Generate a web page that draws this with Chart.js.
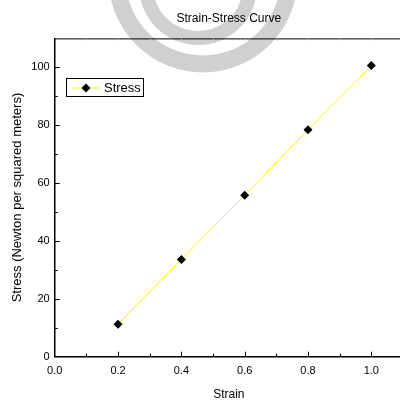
<!DOCTYPE html>
<html>
<head>
<meta charset="utf-8">
<script src="https://cdn.jsdelivr.net/npm/chart.js@4/dist/chart.umd.min.js"></script>
<style>
  html, body { margin: 0; padding: 0; background: #fff; overflow: hidden; }
  #wrap { width: 411px; height: 402px; }
</style>
</head>
<body>
<div id="wrap"><canvas id="chart" width="411" height="402"></canvas></div>
<script>
const strain = [0.2, 0.4, 0.6, 0.8, 1.0];
const stress = [11.2, 33.6, 55.8, 78.4, 100.6];
const seriesName = 'Stress';
const chartTitle = 'Strain-Stress Curve';
const xTitle = 'Strain';
const yTitle = 'Stress (Newton per squared meters)';

const FONT = '"Liberation Sans", Arial, sans-serif';

// faint grey rings behind the chart, like the watermark in the original
const watermark = {
    id: 'watermark',
    beforeDraw(chart) {
        const c = chart.ctx;
        c.save();
        c.strokeStyle = 'rgba(200,200,200,0.85)';
        c.lineWidth = 17;
        c.beginPath();
        c.arc(203, -22, 86, 0, Math.PI);
        c.stroke();
        c.lineWidth = 14;
        c.beginPath();
        c.arc(198, -14, 52, 0.2, Math.PI - 0.1);
        c.stroke();
        c.restore();
    }
};

// inside tick marks + top frame line
const frame = {
    id: 'frame',
    afterDraw(chart) {
        const c = chart.ctx;
        const a = chart.chartArea;
        const xs = chart.scales.x;
        const ys = chart.scales.y;
        c.save();
        c.strokeStyle = '#000';
        c.lineWidth = 1;
        c.beginPath();
        c.moveTo(a.left, a.top + 0.5);
        c.lineTo(a.right, a.top + 0.5);
        c.stroke();
        for (let i = 1; i <= 10; i++) {
            const px = Math.round(xs.getPixelForValue(i / 10)) + 0.5;
            const len = i % 2 === 0 ? 5 : 3;
            c.strokeStyle = '#000';
            c.beginPath();
            c.moveTo(px, a.bottom);
            c.lineTo(px, a.bottom - len);
            c.stroke();
            c.strokeStyle = '#aaa';
            c.beginPath();
            c.moveTo(px, a.top);
            c.lineTo(px, a.top + 2);
            c.stroke();
        }
        c.strokeStyle = '#000';
        for (let v = 10; v <= 100; v += 10) {
            const py = Math.round(ys.getPixelForValue(v)) + 0.5;
            const len = v % 20 === 0 ? 5 : 3;
            c.beginPath();
            c.moveTo(a.left, py);
            c.lineTo(a.left + len, py);
            c.stroke();
        }
        c.restore();
    }
};

// boxed legend inside the plot
const boxLegend = {
    id: 'boxLegend',
    afterDraw(chart) {
        const c = chart.ctx;
        const ds = chart.data.datasets[0];
        c.save();
        c.fillStyle = '#fff';
        c.fillRect(66.5, 78.5, 77, 18);
        c.strokeStyle = '#000';
        c.lineWidth = 1;
        c.strokeRect(66.5, 78.5, 77, 18);
        c.strokeStyle = ds.borderColor;
        c.beginPath();
        c.moveTo(72, 88);
        c.lineTo(100, 88);
        c.stroke();
        c.fillStyle = ds.pointBackgroundColor;
        c.beginPath();
        c.moveTo(86, 83.5);
        c.lineTo(90.5, 88);
        c.lineTo(86, 92.5);
        c.lineTo(81.5, 88);
        c.closePath();
        c.fill();
        c.fillStyle = '#000';
        c.font = '13px ' + FONT;
        c.textBaseline = 'middle';
        c.fillText(ds.label, 104, 88.5);
        c.restore();
    }
};

const ctx = document.getElementById('chart').getContext('2d');
const chart = new Chart(ctx, {
    type: 'line',
    data: {
        datasets: [{
            label: seriesName,
            data: strain.map((x, i) => ({ x: x, y: stress[i] })),
            borderColor: '#ffff00',
            borderWidth: 1,
            pointStyle: 'rectRot',
            pointRadius: 4.5,
            pointBackgroundColor: '#000',
            pointBorderColor: '#000',
            pointBorderWidth: 0,
            tension: 0
        }]
    },
    options: {
        responsive: false,
        animation: false,
        devicePixelRatio: 1,
        layout: { padding: { left: 0, right: 1, top: 0, bottom: 0 } },
        plugins: {
            legend: { display: false },
            tooltip: { enabled: false },
            title: {
                display: true,
                fullSize: false,
                text: chartTitle,
                color: '#000',
                font: { family: FONT, size: 12, weight: 'normal' },
                padding: { top: 11, bottom: 13 }
            }
        },
        scales: {
            x: {
                type: 'linear',
                min: 0,
                max: 1.1,
                grid: { display: false, drawTicks: false },
                border: { display: true, color: '#000', width: 1.5 },
                ticks: {
                    stepSize: 0.2,
                    padding: 8,
                    color: '#000',
                    font: { family: FONT, size: 11 },
                    callback: v => v > 1.05 ? '' : v.toFixed(1)
                },
                title: {
                    display: true,
                    text: xTitle,
                    color: '#000',
                    font: { family: FONT, size: 12 },
                    padding: { top: 4, bottom: 0 }
                },
                afterFit: s => { s.height = 45.3; }
            },
            y: {
                min: 0,
                max: 110,
                grid: { display: false, drawTicks: false },
                border: { display: true, color: '#000', width: 1.5 },
                ticks: {
                    stepSize: 20,
                    padding: 5,
                    color: '#000',
                    font: { family: FONT, size: 11 },
                    callback: v => v % 20 === 0 && v <= 100 ? v : ''
                },
                title: {
                    display: true,
                    text: yTitle,
                    color: '#000',
                    font: { family: FONT, size: 13 },
                    padding: { top: 10, bottom: 4 }
                },
                afterFit: s => { s.width = 54.7; }
            }
        }
    },
    plugins: [watermark, frame, boxLegend]
});
</script>
</body>
</html>
